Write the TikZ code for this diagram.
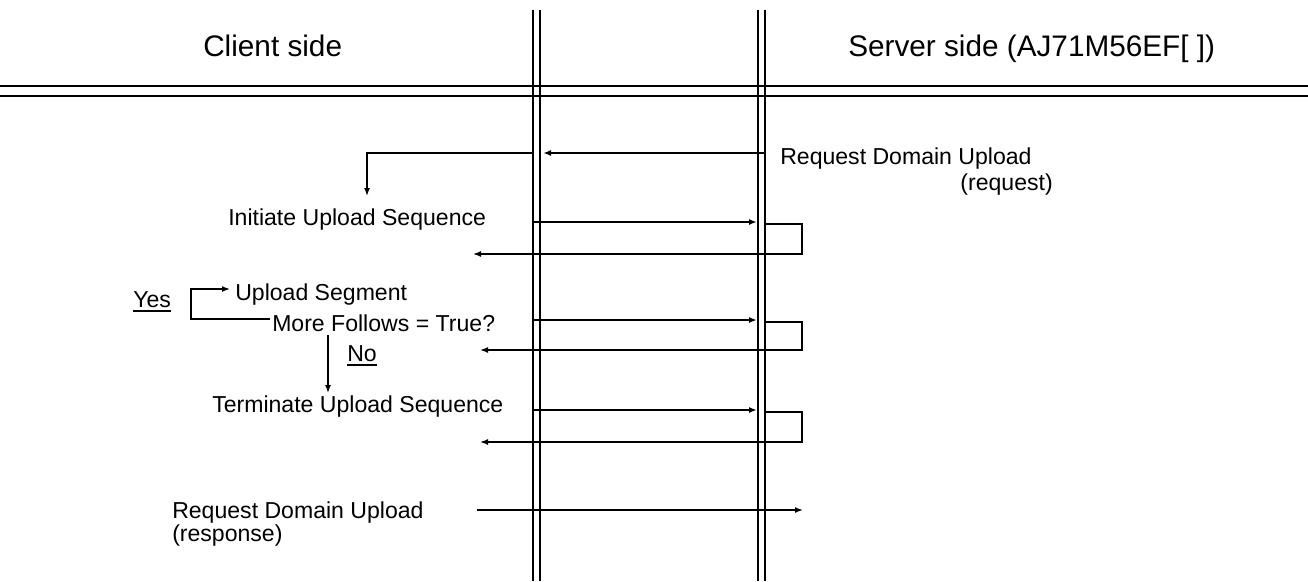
\documentclass[tikz,border=0pt]{standalone}
\usepackage{fontspec}
\setmainfont{Liberation Sans}
\usetikzlibrary{arrows.meta}
\newcommand\thickul[1]{\setbox0\hbox{#1}\rlap{\rule[-3.6pt]{\wd0}{1.4pt}}#1}
\begin{document}
\begin{tikzpicture}[x=0.75pt,y=-0.75pt,
  lbl/.style={font=\fontsize{17.3}{21}\selectfont, inner sep=0pt, anchor=base west},
  ttl/.style={font=\fontsize{22.3}{26}\selectfont, inner sep=0pt, anchor=base west},
  life/.style={line width=1.2pt},
  rulel/.style={line width=1.6pt},
  msg/.style={line width=2.1pt, -{Latex[length=6pt,width=4.5pt]}},
  ret/.style={line width=1.1pt, -{Latex[length=6pt,width=4.5pt]}}]
\useasboundingbox (0,0) rectangle (1308,581);
\fill[white] (0,0) rectangle (1308,581);

% titles
\node[ttl] (client) at (203,57) {Client side};
\node[ttl] (server) at (848,57) {Server side (AJ71M56EF[ ])};

% header rules
\draw[rulel] (0,86) -- (1308,86);
\draw[rulel] (0,96) -- (1308,96);

% lifelines
\foreach \x in {533,540,758,765} \draw[life] (\x,10) -- (\x,581);

% labels
\node[lbl] (rdu) at (780,165) {Request Domain Upload};
\node[lbl, anchor=base east] (rq) at (1053,190) {(request)};
\node[lbl] (init) at (228,225) {Initiate Upload Sequence};
\node[lbl] (yes) at (133,307) {\thickul{Yes}};
\node[lbl] (seg) at (235,300) {Upload Segment};
\node[lbl] (more) at (272,331) {More Follows = True?};
\node[lbl] (no) at (347,361) {\thickul{No}};
\node[lbl] (term) at (212,412) {Terminate Upload Sequence};
\node[lbl] (rdr) at (172,518) {Request Domain Upload};
\node[lbl] (rsp) at (172,541) {(response)};

% coordinates
\coordinate (a1s) at (765,153); \coordinate (a1e) at (543,153);
\coordinate (b1s) at (533,153); \coordinate (b1m) at (367,153); \coordinate (b1e) at (367,196);
\coordinate (a2s) at (533,222); \coordinate (a2e) at (757,222);
\coordinate (r2a) at (765,224); \coordinate (r2b) at (802,224); \coordinate (r2c) at (802,254); \coordinate (r2e) at (473,254);
\coordinate (ya) at (270,319); \coordinate (yb) at (191,319); \coordinate (yc) at (191,289); \coordinate (ye) at (230,289);
\coordinate (a3s) at (533,320); \coordinate (a3e) at (757,320);
\coordinate (r3a) at (765,322); \coordinate (r3b) at (802,322); \coordinate (r3c) at (802,350); \coordinate (r3e) at (480,350);
\coordinate (ns) at (328,335); \coordinate (ne) at (328,393);
\coordinate (a4s) at (533,410); \coordinate (a4e) at (757,410);
\coordinate (r4a) at (765,412); \coordinate (r4b) at (802,412); \coordinate (r4c) at (802,442); \coordinate (r4e) at (480,442);
\coordinate (a5s) at (477,510); \coordinate (a5e) at (803,510);

% connectors
\draw[msg] (a1s) -- (a1e);
\draw[ret] (b1s) -- (b1m) -- (b1e);
\draw[msg] (a2s) -- (a2e);
\draw[ret] (r2a) -- (r2b) -- (r2c) -- (r2e);
\draw[ret] (ya) -- (yb) -- (yc) -- (ye);
\draw[msg] (a3s) -- (a3e);
\draw[ret] (r3a) -- (r3b) -- (r3c) -- (r3e);
\draw[ret] (ns) -- (ne);
\draw[msg] (a4s) -- (a4e);
\draw[ret] (r4a) -- (r4b) -- (r4c) -- (r4e);
\draw[ret] (a5s) -- (a5e);
\end{tikzpicture}
\end{document}
